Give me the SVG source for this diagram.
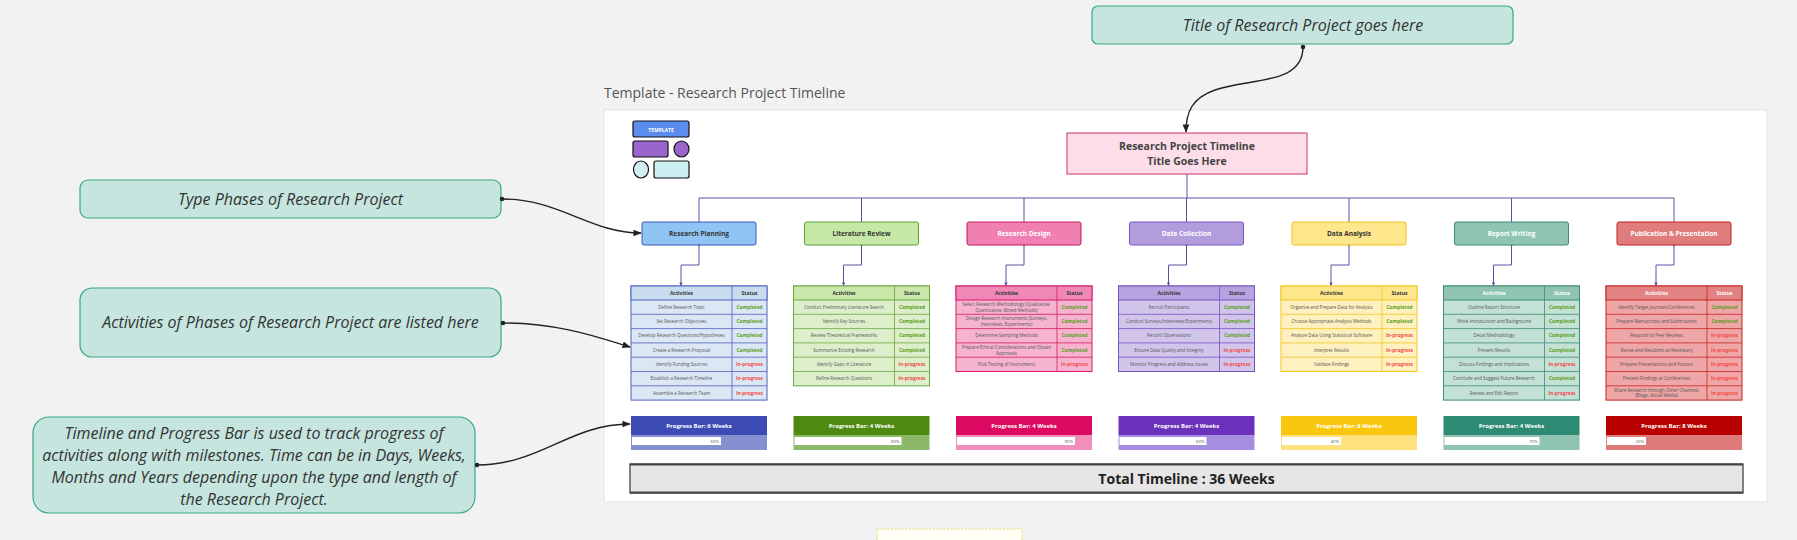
<svg xmlns="http://www.w3.org/2000/svg" width="1797" height="540" viewBox="0 0 1797 540">
<defs>
<style>
text{font-family:'Open Sans','Liberation Sans',sans-serif}
.note{fill:#c5e5de;stroke:#35a886;stroke-width:1.2}
.ntx{font-style:italic;font-size:16px;fill:#333;text-anchor:middle}
.ph{font-weight:bold;font-size:6.5px;text-anchor:middle}
.hd{font-weight:bold;font-size:5px;text-anchor:middle}
.act{font-size:4.5px;fill:#555;text-anchor:middle}
.st{font-weight:bold;font-size:4.8px;text-anchor:middle}
.cp{fill:#5c9e1e}
.ip{fill:#f24a4a}
.pb{font-weight:bold;font-size:6px;fill:#fff;text-anchor:middle}
.pct{font-size:4.3px;fill:#555;text-anchor:end}
.dk{fill:#333}
.wt{fill:#fff}
.ln{fill:none;stroke:#5a52a6;stroke-width:1}
.cn{fill:none;stroke:#222;stroke-width:1.4}
.bar{fill:#fff}
</style>
<marker id="ah" viewBox="0 0 10 10" refX="9" refY="5" markerWidth="6" markerHeight="6" orient="auto"><path d="M0,1 L10,5 L0,9 z" fill="#222"/></marker>
<marker id="dot" viewBox="0 0 10 10" refX="5" refY="5" markerWidth="4" markerHeight="4"><circle cx="5" cy="5" r="4" fill="#222"/></marker>
<marker id="ahp" viewBox="0 0 10 10" refX="9" refY="5" markerWidth="4" markerHeight="4" orient="auto"><path d="M0,1 L10,5 L0,9 z" fill="#5a52a6"/></marker>
<marker id="dotp" viewBox="0 0 10 10" refX="5" refY="5" markerWidth="3" markerHeight="3"><circle cx="5" cy="5" r="4" fill="#5a52a6"/></marker>
</defs>
<rect x="0" y="0" width="1797" height="540" fill="#f2f2f2"/>
<text x="604" y="98" font-size="14" fill="#555">Template - Research Project Timeline</text>
<rect x="604" y="110" width="1163" height="392" fill="#fff" stroke="#e4e4e4"/>
<rect x="877" y="529" width="145" height="20" fill="#fffff6" stroke="#e4dc70" stroke-dasharray="2 1.5"/>

<g id="template-icon" stroke="#111" stroke-width="1.2">
<rect x="633" y="121" width="56" height="16" rx="2" fill="#5b8def"/>
<text x="661" y="131.5" font-size="5" font-weight="bold" fill="#fff" stroke="none" text-anchor="middle">TEMPLATE</text>
<rect x="633" y="141" width="35" height="16" rx="2" fill="#9a66cc"/>
<ellipse cx="681.5" cy="149" rx="7.5" ry="8" fill="#9a66cc"/>
<ellipse cx="641" cy="169.5" rx="7.5" ry="8.5" fill="#d3eef2"/>
<rect x="654" y="161" width="35" height="17" rx="2" fill="#cdeef0"/>
</g>

<g id="note-title"><rect class="note" x="1092" y="6" width="421" height="38" rx="6"/><text class="ntx" x="1303" y="31" font-size="18">Title of Research Project goes here</text></g>
<g id="note-phases"><rect class="note" x="80" y="180" width="421" height="38" rx="8"/><text class="ntx" x="290.5" y="204.5">Type Phases of Research Project</text></g>
<g id="note-activities"><rect class="note" x="80" y="288" width="421" height="69" rx="12"/><text class="ntx" x="290.5" y="328">Activities of Phases of Research Project are listed here</text></g>
<g id="note-timeline"><rect class="note" x="33" y="417" width="442" height="96" rx="16"/>
<text class="ntx" x="254" y="439">Timeline and Progress Bar is used to track progress of</text>
<text class="ntx" x="254" y="461">activities along with milestones. Time can be in Days, Weeks,</text>
<text class="ntx" x="254" y="483">Months and Years depending upon the type and length of</text>
<text class="ntx" x="254" y="505">the Research Project.</text></g>

<g id="root"><rect x="1067" y="133" width="240" height="41" fill="#fcdde9" stroke="#d0306e" stroke-width="1"/>
<text x="1187" y="150" font-size="10.5" font-weight="bold" fill="#444" text-anchor="middle">Research Project Timeline</text>
<text x="1187" y="165" font-size="10.5" font-weight="bold" fill="#444" text-anchor="middle">Title Goes Here</text></g>

<g id="connectors">
<path class="ln" d="M1187,174 V198 M699,198 H1674 M699,198 V222 M861.5,198 V222 M1024,198 V222 M1186.5,198 V222 M1349,198 V222 M1511.5,198 V222 M1674,198 V222"/>
<path class="ln" marker-start="url(#dotp)" marker-end="url(#ahp)" d="M699,245 V265 H681 V286"/>
<path class="ln" marker-start="url(#dotp)" marker-end="url(#ahp)" d="M861.5,245 V265 H843.5 V286"/>
<path class="ln" marker-start="url(#dotp)" marker-end="url(#ahp)" d="M1024,245 V265 H1006 V286"/>
<path class="ln" marker-start="url(#dotp)" marker-end="url(#ahp)" d="M1186.5,245 V265 H1168.5 V286"/>
<path class="ln" marker-start="url(#dotp)" marker-end="url(#ahp)" d="M1349,245 V265 H1331 V286"/>
<path class="ln" marker-start="url(#dotp)" marker-end="url(#ahp)" d="M1511.5,245 V265 H1493.5 V286"/>
<path class="ln" marker-start="url(#dotp)" marker-end="url(#ahp)" d="M1674,245 V265 H1656 V286"/>
<path class="cn" marker-start="url(#dot)" marker-end="url(#ah)" d="M1303,47 C1303,85 1250,78 1215,90 C1192,98 1186,112 1186,132"/>
<path class="cn" marker-start="url(#dot)" marker-end="url(#ah)" d="M502,199 C560,199 590,233 641,233"/>
<path class="cn" marker-start="url(#dot)" marker-end="url(#ah)" d="M503,323 C560,323 600,338 630,347"/>
<path class="cn" marker-start="url(#dot)" marker-end="url(#ah)" d="M477,465 C540,465 570,424 630,424"/>
</g>

<!-- Column 1 -->
<g id="phase-research-planning" transform="translate(631,0)">
<rect x="11" y="222" width="114" height="23" rx="2" fill="#90c4f5" stroke="#3d55b8"/>
<text class="ph dk" x="68" y="235.5">Research Planning</text>
<rect x="0" y="286" width="136" height="114.1" fill="#dbe7f4" stroke="#5060c0"/>
<rect x="0" y="286" width="136" height="14" fill="#c9dbef" stroke="#5060c0"/>
<path d="M101,286 V400.1 M0,314.3 H136 M0,328.6 H136 M0,342.9 H136 M0,357.2 H136 M0,371.5 H136 M0,385.8 H136" stroke="#5060c0" stroke-width="0.8"/>
<text class="hd dk" x="50.5" y="294.8">Activities</text><text class="hd dk" x="118.5" y="294.8">Status</text>
<text class="act" x="50.5" y="308.8">Define Research Topic</text><text class="st cp" x="118.5" y="308.8">Completed</text>
<text class="act" x="50.5" y="323.1">Set Research Objectives</text><text class="st cp" x="118.5" y="323.1">Completed</text>
<text class="act" x="50.5" y="337.4">Develop Research Questions/Hypotheses</text><text class="st cp" x="118.5" y="337.4">Completed</text>
<text class="act" x="50.5" y="351.7">Create a Research Proposal</text><text class="st cp" x="118.5" y="351.7">Completed</text>
<text class="act" x="50.5" y="366">Identify Funding Sources</text><text class="st ip" x="118.5" y="366">In-progress</text>
<text class="act" x="50.5" y="380.3">Establish a Research Timeline</text><text class="st ip" x="118.5" y="380.3">In-progress</text>
<text class="act" x="50.5" y="394.6">Assemble a Research Team</text><text class="st ip" x="118.5" y="394.6">In-progress</text>
<rect x="0" y="416" width="136" height="19" fill="#3e4bb5"/><rect x="0" y="435" width="136" height="15" fill="#8490d0"/>
<rect class="bar" x="1" y="437" width="89" height="8"/>
<text class="pb" x="68" y="428">Progress Bar: 6 Weeks</text><text class="pct" x="88" y="442.6">60%</text>
</g>

<!-- Column 2 -->
<g id="phase-literature-review" transform="translate(793.5,0)">
<rect x="11" y="222" width="114" height="23" rx="2" fill="#c6e8a6" stroke="#5e9e35"/>
<text class="ph dk" x="68" y="235.5">Literature Review</text>
<rect x="0" y="286" width="136" height="99.8" fill="#dcefca" stroke="#6aa842"/>
<rect x="0" y="286" width="136" height="14" fill="#c8e7a8" stroke="#6aa842"/>
<path d="M101,286 V385.8 M0,314.3 H136 M0,328.6 H136 M0,342.9 H136 M0,357.2 H136 M0,371.5 H136" stroke="#6aa842" stroke-width="0.8"/>
<text class="hd dk" x="50.5" y="294.8">Activities</text><text class="hd dk" x="118.5" y="294.8">Status</text>
<text class="act" x="50.5" y="308.8">Conduct Preliminary Literature Search</text><text class="st cp" x="118.5" y="308.8">Completed</text>
<text class="act" x="50.5" y="323.1">Identify Key Sources</text><text class="st cp" x="118.5" y="323.1">Completed</text>
<text class="act" x="50.5" y="337.4">Review Theoretical Frameworks</text><text class="st cp" x="118.5" y="337.4">Completed</text>
<text class="act" x="50.5" y="351.7">Summarize Existing Research</text><text class="st cp" x="118.5" y="351.7">Completed</text>
<text class="act" x="50.5" y="366">Identify Gaps in Literature</text><text class="st ip" x="118.5" y="366">In-progress</text>
<text class="act" x="50.5" y="380.3">Refine Research Questions</text><text class="st ip" x="118.5" y="380.3">In-progress</text>
<rect x="0" y="416" width="136" height="19" fill="#4c8a12"/><rect x="0" y="435" width="136" height="15" fill="#8cb86a"/>
<rect class="bar" x="1" y="437" width="107" height="8"/>
<text class="pb" x="68" y="428">Progress Bar: 4 Weeks</text><text class="pct" x="106" y="442.6">80%</text>
</g>

<!-- Column 3 -->
<g id="phase-research-design" transform="translate(956,0)">
<rect x="11" y="222" width="114" height="23" rx="2" fill="#f07fb2" stroke="#c8195d"/>
<text class="ph wt" x="68" y="235.5">Research Design</text>
<rect x="0" y="286" width="136" height="85.5" fill="#f5b3d0" stroke="#d81b62"/>
<rect x="0" y="286" width="136" height="14" fill="#ef88b7" stroke="#d81b62"/>
<path d="M101,286 V371.5 M0,314.3 H136 M0,328.6 H136 M0,342.9 H136 M0,357.2 H136" stroke="#d81b62" stroke-width="0.8"/>
<text class="hd dk" x="50.5" y="294.8">Activities</text><text class="hd dk" x="118.5" y="294.8">Status</text>
<text class="act" x="50.5" y="306">Select Research Methodology (Qualitative,</text><text class="act" x="50.5" y="311.6">Quantitative, Mixed-Methods)</text><text class="st cp" x="118.5" y="308.8">Completed</text>
<text class="act" x="50.5" y="320.3">Design Research Instruments (Surveys,</text><text class="act" x="50.5" y="325.9">Interviews, Experiments)</text><text class="st cp" x="118.5" y="323.1">Completed</text>
<text class="act" x="50.5" y="337.4">Determine Sampling Methods</text><text class="st cp" x="118.5" y="337.4">Completed</text>
<text class="act" x="50.5" y="348.9">Prepare Ethical Considerations and Obtain</text><text class="act" x="50.5" y="354.5">Approvals</text><text class="st cp" x="118.5" y="351.7">Completed</text>
<text class="act" x="50.5" y="366">Pilot Testing of Instruments</text><text class="st ip" x="118.5" y="366">In-progress</text>
<rect x="0" y="416" width="136" height="19" fill="#dc0a61"/><rect x="0" y="435" width="136" height="15" fill="#f08fba"/>
<rect class="bar" x="1" y="437" width="118" height="8"/>
<text class="pb" x="68" y="428">Progress Bar: 4 Weeks</text><text class="pct" x="117" y="442.6">90%</text>
</g>

<!-- Column 4 -->
<g id="phase-data-collection" transform="translate(1118.5,0)">
<rect x="11" y="222" width="114" height="23" rx="2" fill="#b29ddc" stroke="#7a55c0"/>
<text class="ph wt" x="68" y="235.5">Data Collection</text>
<rect x="0" y="286" width="136" height="85.5" fill="#d2c5ec" stroke="#7752bf"/>
<rect x="0" y="286" width="136" height="14" fill="#b8a3e1" stroke="#7752bf"/>
<path d="M101,286 V371.5 M0,314.3 H136 M0,328.6 H136 M0,342.9 H136 M0,357.2 H136" stroke="#7752bf" stroke-width="0.8"/>
<text class="hd dk" x="50.5" y="294.8">Activities</text><text class="hd dk" x="118.5" y="294.8">Status</text>
<text class="act" x="50.5" y="308.8">Recruit Participants</text><text class="st cp" x="118.5" y="308.8">Completed</text>
<text class="act" x="50.5" y="323.1">Conduct Surveys/Interviews/Experiments</text><text class="st cp" x="118.5" y="323.1">Completed</text>
<text class="act" x="50.5" y="337.4">Record Observations</text><text class="st cp" x="118.5" y="337.4">Completed</text>
<text class="act" x="50.5" y="351.7">Ensure Data Quality and Integrity</text><text class="st ip" x="118.5" y="351.7">In-progress</text>
<text class="act" x="50.5" y="366">Monitor Progress and Address Issues</text><text class="st ip" x="118.5" y="366">In-progress</text>
<rect x="0" y="416" width="136" height="19" fill="#6b31bb"/><rect x="0" y="435" width="136" height="15" fill="#a58ee0"/>
<rect class="bar" x="1" y="437" width="87" height="8"/>
<text class="pb" x="68" y="428">Progress Bar: 4 Weeks</text><text class="pct" x="86" y="442.6">60%</text>
</g>

<!-- Column 5 -->
<g id="phase-data-analysis" transform="translate(1281,0)">
<rect x="11" y="222" width="114" height="23" rx="2" fill="#fde68c" stroke="#f2c31c"/>
<text class="ph dk" x="68" y="235.5">Data Analysis</text>
<rect x="0" y="286" width="136" height="85.5" fill="#fef0bf" stroke="#f4c61d"/>
<rect x="0" y="286" width="136" height="14" fill="#fde68c" stroke="#f4c61d"/>
<path d="M101,286 V371.5 M0,314.3 H136 M0,328.6 H136 M0,342.9 H136 M0,357.2 H136" stroke="#f4c61d" stroke-width="0.8"/>
<text class="hd dk" x="50.5" y="294.8">Activities</text><text class="hd dk" x="118.5" y="294.8">Status</text>
<text class="act" x="50.5" y="308.8">Organize and Prepare Data for Analysis</text><text class="st cp" x="118.5" y="308.8">Completed</text>
<text class="act" x="50.5" y="323.1">Choose Appropriate Analysis Methods</text><text class="st cp" x="118.5" y="323.1">Completed</text>
<text class="act" x="50.5" y="337.4">Analyze Data Using Statistical Software</text><text class="st ip" x="118.5" y="337.4">In-progress</text>
<text class="act" x="50.5" y="351.7">Interpret Results</text><text class="st ip" x="118.5" y="351.7">In-progress</text>
<text class="act" x="50.5" y="366">Validate Findings</text><text class="st ip" x="118.5" y="366">In-progress</text>
<rect x="0" y="416" width="136" height="19" fill="#fac710"/><rect x="0" y="435" width="136" height="15" fill="#fde27f"/>
<rect class="bar" x="1" y="437" width="59" height="8"/>
<text class="pb" x="68" y="428">Progress Bar: 6 Weeks</text><text class="pct" x="58" y="442.6">40%</text>
</g>

<!-- Column 6 -->
<g id="phase-report-writing" transform="translate(1443.5,0)">
<rect x="11" y="222" width="114" height="23" rx="2" fill="#8fc4b2" stroke="#3d8d74"/>
<text class="ph wt" x="68" y="235.5">Report Writing</text>
<rect x="0" y="286" width="136" height="114.1" fill="#c4e1d6" stroke="#3d8d74"/>
<rect x="0" y="286" width="136" height="14" fill="#8fc4b2" stroke="#3d8d74"/>
<path d="M101,286 V400.1 M0,314.3 H136 M0,328.6 H136 M0,342.9 H136 M0,357.2 H136 M0,371.5 H136 M0,385.8 H136" stroke="#3d8d74" stroke-width="0.8"/>
<text class="hd wt" x="50.5" y="294.8">Activities</text><text class="hd wt" x="118.5" y="294.8">Status</text>
<text class="act" x="50.5" y="308.8">Outline Report Structure</text><text class="st cp" x="118.5" y="308.8">Completed</text>
<text class="act" x="50.5" y="323.1">Write Introduction and Background</text><text class="st cp" x="118.5" y="323.1">Completed</text>
<text class="act" x="50.5" y="337.4">Detail Methodology</text><text class="st cp" x="118.5" y="337.4">Completed</text>
<text class="act" x="50.5" y="351.7">Present Results</text><text class="st cp" x="118.5" y="351.7">Completed</text>
<text class="act" x="50.5" y="366">Discuss Findings and Implications</text><text class="st ip" x="118.5" y="366">In-progress</text>
<text class="act" x="50.5" y="380.3">Conclude and Suggest Future Research</text><text class="st cp" x="118.5" y="380.3">Completed</text>
<text class="act" x="50.5" y="394.6">Review and Edit Report</text><text class="st ip" x="118.5" y="394.6">In-progress</text>
<rect x="0" y="416" width="136" height="19" fill="#2e8a72"/><rect x="0" y="435" width="136" height="15" fill="#8ec4b1"/>
<rect class="bar" x="1" y="437" width="95" height="8"/>
<text class="pb" x="68" y="428">Progress Bar: 4 Weeks</text><text class="pct" x="94" y="442.6">70%</text>
</g>

<!-- Column 7 -->
<g id="phase-publication" transform="translate(1606,0)">
<rect x="11" y="222" width="114" height="23" rx="2" fill="#e07c7c" stroke="#c41e1e"/>
<text class="ph wt" x="68" y="235.5">Publication &amp; Presentation</text>
<rect x="0" y="286" width="136" height="114.1" fill="#efa6a6" stroke="#c62424"/>
<rect x="0" y="286" width="136" height="14" fill="#e18383" stroke="#c62424"/>
<path d="M101,286 V400.1 M0,314.3 H136 M0,328.6 H136 M0,342.9 H136 M0,357.2 H136 M0,371.5 H136 M0,385.8 H136" stroke="#c62424" stroke-width="0.8"/>
<text class="hd wt" x="50.5" y="294.8">Activities</text><text class="hd wt" x="118.5" y="294.8">Status</text>
<text class="act" x="50.5" y="308.8">Identify Target Journals/Conferences</text><text class="st cp" x="118.5" y="308.8">Completed</text>
<text class="act" x="50.5" y="323.1">Prepare Manuscripts and Submissions</text><text class="st cp" x="118.5" y="323.1">Completed</text>
<text class="act" x="50.5" y="337.4">Respond to Peer Reviews</text><text class="st ip" x="118.5" y="337.4">In-progress</text>
<text class="act" x="50.5" y="351.7">Revise and Resubmit as Necessary</text><text class="st ip" x="118.5" y="351.7">In-progress</text>
<text class="act" x="50.5" y="366">Prepare Presentations and Posters</text><text class="st ip" x="118.5" y="366">In-progress</text>
<text class="act" x="50.5" y="380.3">Present Findings at Conferences</text><text class="st ip" x="118.5" y="380.3">In-progress</text>
<text class="act" x="50.5" y="391.8">Share Research through Other Channels</text><text class="act" x="50.5" y="397.4">(Blogs, Social Media)</text><text class="st ip" x="118.5" y="394.6">In-progress</text>
<rect x="0" y="416" width="136" height="19" fill="#b80000"/><rect x="0" y="435" width="136" height="15" fill="#de7a7a"/>
<rect class="bar" x="1" y="437" width="39" height="8"/>
<text class="pb" x="68" y="428">Progress Bar: 8 Weeks</text><text class="pct" x="38" y="442.6">20%</text>
</g>

<g id="total-timeline">
<rect x="630" y="464" width="1113" height="29" fill="#e6e6e6" stroke="#333" stroke-width="1.2"/>
<path d="M630,464.5 H1743 M630,492.5 H1743" stroke="#444" stroke-width="2"/>
<text x="1186.5" y="484" font-size="14" font-weight="bold" fill="#222" text-anchor="middle">Total Timeline : 36 Weeks</text>
</g>
</svg>
